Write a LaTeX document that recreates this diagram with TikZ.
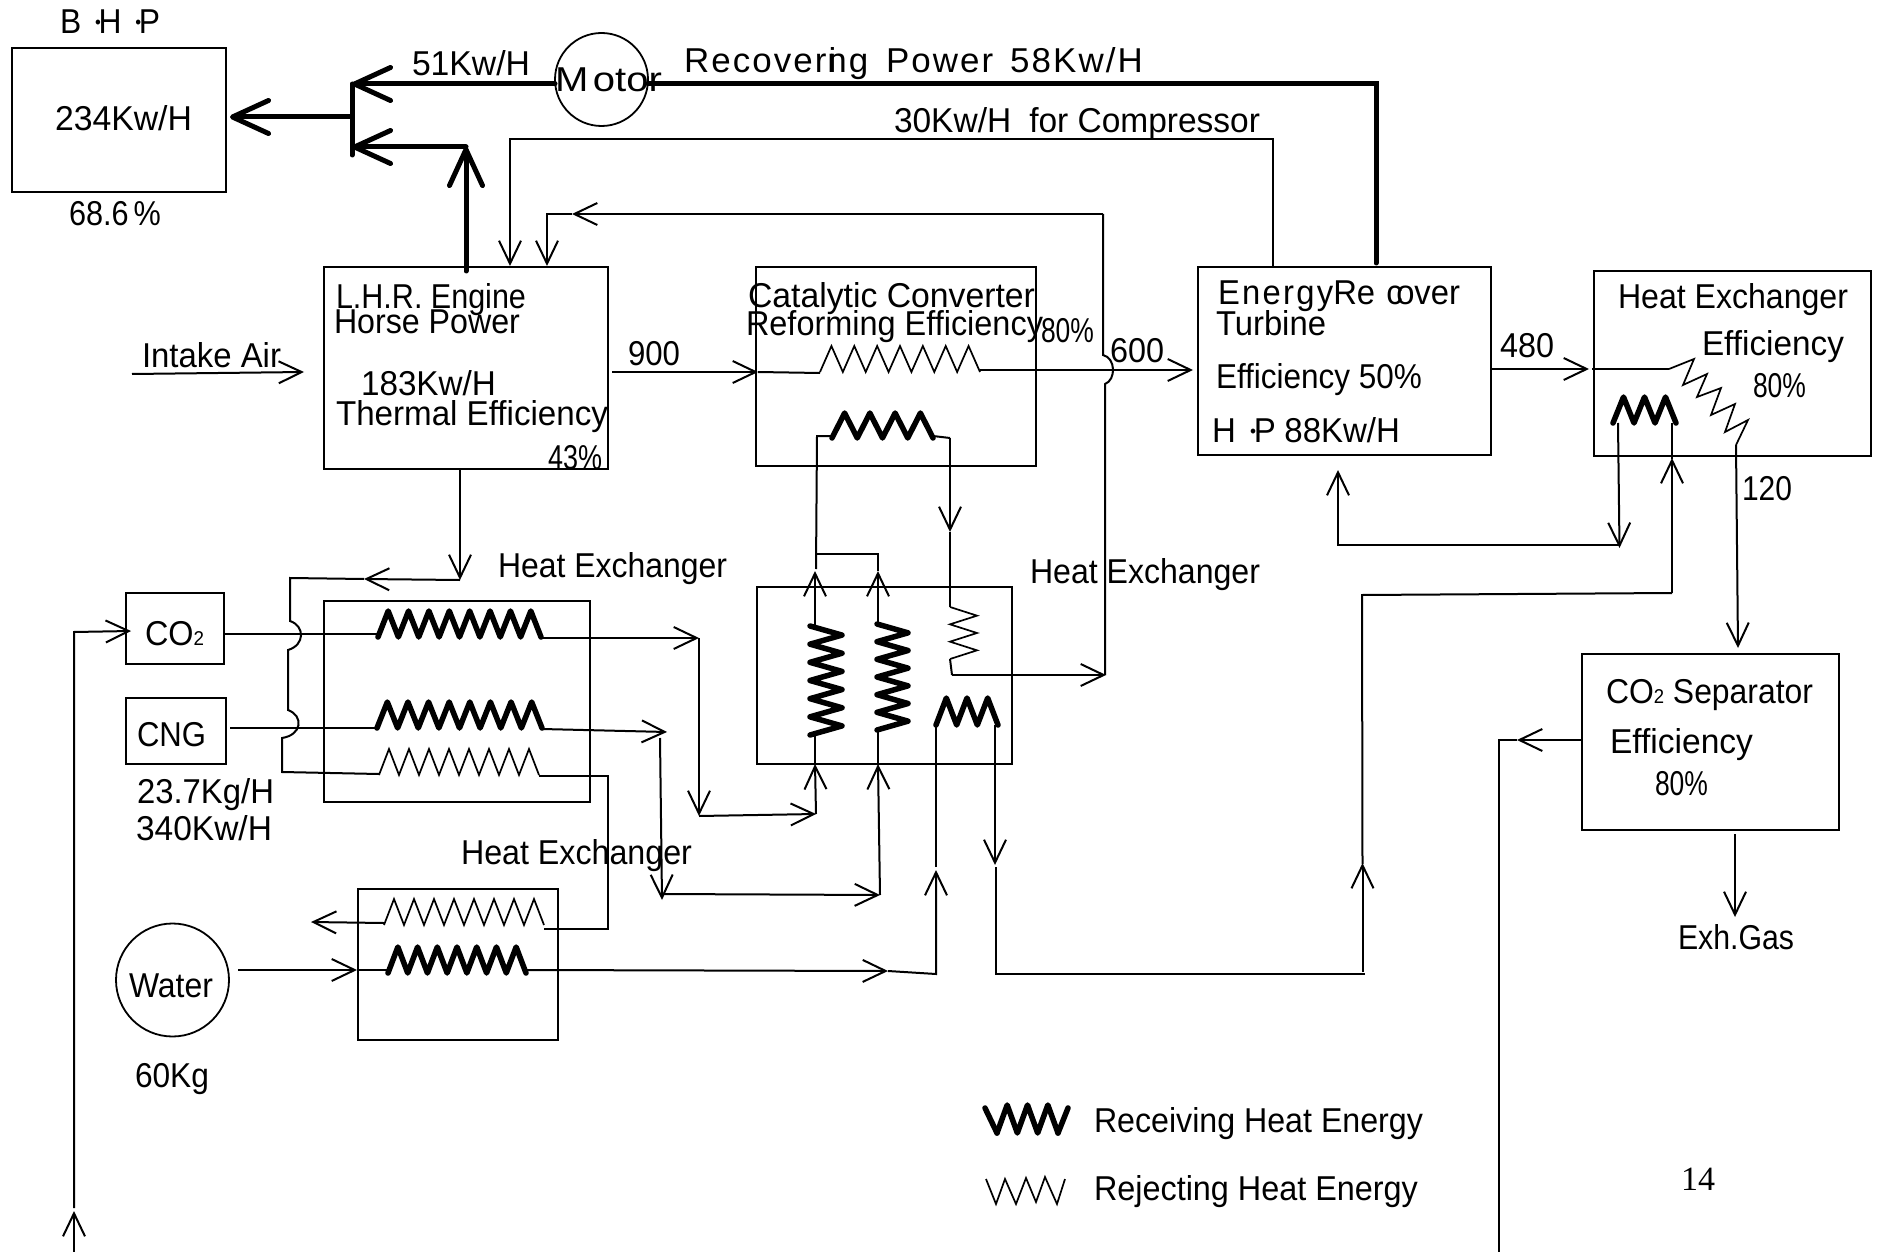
\documentclass[tikz,border=0pt]{standalone}
\usepackage{fontspec}
\usepackage{graphicx}
\setmainfont{Liberation Sans}
\newfontfamily\pagefont{Liberation Serif}
\usetikzlibrary{arrows.meta}
\newsavebox\fitbox
\newcommand\fitw[2]{\sbox\fitbox{#2}\pgfmathsetmacro\fitr{#1/\the\wd\fitbox}\scalebox{\fitr}[1]{\usebox\fitbox}}
\newcommand\lab[5]{\node[lbl] (#1) at (#2,#3) {\fitw{#4}{#5}};}
\newcommand\bdot{{\fontsize{18}{18}\selectfont\raisebox{5pt}{•}}}
\newcommand\subtwo{{\fontsize{20}{20}\selectfont 2}}
\newcommand\boxn[5]{\node[boxst,minimum width={(#4-#2)*1pt},minimum height={(#5-#3)*1pt}] (#1) at ({(#2+#4)/2},{(#3+#5)/2}) {};}
\newcommand\hcoil[6]{\pgfmathsetmacro\cdx{(#3-#1)/(2*#4)}\draw[#6] (#1,#2) \foreach\ci in {1,...,#4}{ -- ++(\cdx,-#5) -- ++(\cdx,#5)};}
\newcommand\vcoil[6]{\pgfmathsetmacro\cdy{(#3-#2)/(2*#4)}\draw[#6] (#1,#2) \foreach\ci in {1,...,#4}{ -- ++(#5,\cdy) -- ++(-#5,\cdy)};}
\tikzset{
  lbl/.style={anchor=base west,inner sep=0pt,outer sep=0pt,font=\fontsize{34.5}{34.5}\selectfont},
  boxst/.style={draw,line width=2pt,inner sep=0pt,outer sep=0pt},
  circst/.style={draw,circle,line width=1.8pt,inner sep=0pt,outer sep=0pt},
  wire/.style={line width=2pt},
  wirearr/.style={line width=2pt,-{Straight Barb[length=23pt,width=22pt,line width=2pt]}},
  heavy/.style={line width=5pt,line cap=round},
  heavyarr/.style={line width=5pt,line cap=round,-{Straight Barb[length=36pt,width=33pt,line width=5pt,round]}},
  rcoil/.style={line width=5.5pt,line join=round,line cap=round},
  jcoil/.style={line width=1.7pt,line join=miter},
}
\begin{document}
\begin{tikzpicture}[x=1pt,y=-1pt]
\useasboundingbox (0,0) rectangle (1880,1252);
% boxes
\boxn{bhp}{12}{48}{226}{192}
\boxn{engine}{324}{267}{608}{469}
\boxn{catal}{756}{267}{1036}{466}
\boxn{turb}{1198}{267}{1491}{455}
\boxn{hxr}{1594}{271}{1871}{456}
\boxn{hxa}{324}{601}{590}{802}
\boxn{hxb}{756.5}{587}{1012}{763.5}
\boxn{hxc}{358}{889}{558}{1039.5}
\boxn{cotwo}{126}{593}{224}{664}
\boxn{cng}{126}{697.5}{226}{764}
\boxn{sep}{1582}{654}{1839}{830}
\node[circst,minimum size=93pt] (motor) at (601.5,79.5) {};
\node[circst,minimum size=113pt] (water) at (172.5,980) {};
% labels
\lab{tbhp}{60}{34}{100}{B\hspace{15pt}\bdot\kern-2.5pt H\hspace{15pt}\bdot\kern-2.5pt P}
\lab{t234}{55}{131}{137}{234Kw/H}
\lab{t686}{69}{226}{92}{68.6\,\%}
\lab{t51}{412}{76}{118}{51Kw/H}
\lab{tmot}{555}{92}{107}{M\hspace{4pt}otor}
\lab{trec}{684}{72.5}{459}{\addfontfeature{LetterSpace=6}Recoveri\kern-9pt ng\hspace{6pt} Power\hspace{5pt} 58Kw/H}
\lab{t30}{894}{132.5}{366}{30Kw/H\hspace{9pt} for Compressor}
\lab{tlhr}{336}{308}{190}{L.H.R. Engine}
\lab{thp}{334}{333}{186}{Horse Power}
\lab{t183}{361}{395}{135}{183Kw/H}
\lab{tthe}{336}{425}{272}{Thermal Efficiency}
\lab{t43}{548}{469}{54}{43\%}
\lab{tair}{142}{367}{139}{Intake Air}
\lab{t900}{628}{365}{52}{900}
\lab{tcat}{748}{307}{287}{Catalytic Converter}
\lab{tref}{746}{335}{297}{Reforming Efficiency}
\lab{t80a}{1041}{342}{53}{80\%}
\lab{t600}{1110}{362.5}{54}{600}
\lab{tene}{1218}{305}{242}{\addfontfeature{LetterSpace=7}Energy\addfontfeature{LetterSpace=0}Re\hspace{12pt}c\kern-7pt over}
\lab{ttur}{1216}{335.5}{110}{Turbine}
\lab{teff}{1216}{388.5}{206}{Efficiency 50\%}
\lab{thpb}{1212}{442.5}{188}{H\hspace{15pt}\bdot\kern-2.5pt P\hspace{9pt}88Kw/H}
\lab{t480}{1500}{357}{54}{480}
\lab{thx}{1618}{308.5}{230}{Heat Exchanger}
\lab{teffb}{1702}{355.5}{142}{Efficiency}
\lab{t80b}{1753}{397.5}{53}{80\%}
\lab{t120}{1742}{500}{50}{120}
\lab{thxa}{498}{577}{229}{Heat Exchanger}
\lab{thxb}{461}{864}{231}{Heat Exchanger}
\lab{thxc}{1030}{583}{230}{Heat Exchanger}
\lab{tco}{145}{645}{59}{CO\subtwo}
\lab{tcng}{137}{746}{69}{CNG}
\lab{tkg}{137}{803}{137}{23.7Kg/H}
\lab{tkw}{136}{840.5}{136}{340Kw/H}
\lab{twat}{129}{997}{84}{Water}
\lab{t60}{135}{1087}{74}{60Kg}
\lab{tsep}{1606}{703}{207}{CO\subtwo\ Separator}
\lab{teffc}{1610}{753}{143}{Efficiency}
\lab{t80c}{1655}{795.5}{53}{80\%}
\lab{texh}{1678}{949}{116}{Exh.Gas}
\node[lbl,font=\pagefont\fontsize{34}{34}\selectfont] (tpage) at (1681,1190) {14};
\lab{trcv}{1094}{1132}{329}{Receiving Heat Energy}
\lab{trej}{1094}{1200.5}{324}{Rejecting Heat Energy}
% waypoints
\coordinate (mL) at (555,84); \coordinate (mR) at (648,84);
\coordinate (rA) at (1376,84); \coordinate (rB) at (1376,263);
\coordinate (busT) at (352,84); \coordinate (busB) at (352,155);
\coordinate (busM) at (352,117); \coordinate (bhpIn) at (230,117);
\coordinate (busN) at (352,147); \coordinate (jE) at (466,147); \coordinate (eOut) at (466,271);
\coordinate (cA) at (1273,267); \coordinate (cB) at (1273,139); \coordinate (cC) at (510,139); \coordinate (cD) at (510,266);
\coordinate (bA) at (1105,675); \coordinate (bB) at (1105,384); \coordinate (bC) at (1103,355);
\coordinate (bD) at (1103,214); \coordinate (bE) at (572,214); \coordinate (bF) at (547,214); \coordinate (bG) at (547,266);
\coordinate (airA) at (132,374); \coordinate (airB) at (304,372);
\coordinate (nA) at (612,372); \coordinate (nB) at (758,372); \coordinate (nC) at (820,373);
\coordinate (sA) at (980,370); \coordinate (sB) at (1193,370);
\coordinate (fA) at (1491,369); \coordinate (fB) at (1589,369); \coordinate (fC) at (1592,369); \coordinate (fD) at (1669,369);
\coordinate (oA) at (1736,445); \coordinate (oB) at (1738,648);
\coordinate (upA) at (1620,545); \coordinate (upB) at (1338,545); \coordinate (upC) at (1338,470);
\coordinate (upD) at (1618,423); \coordinate (upE) at (1619.5,548);
\coordinate (hxA) at (817,436); \coordinate (hxB) at (816,554); \coordinate (hxC) at (878,554); \coordinate (hxD) at (878,571);
\coordinate (hxE) at (832,436); \coordinate (hxF) at (933,436); \coordinate (hxG) at (950,438); \coordinate (hxH) at (950,532); \coordinate (hxI) at (950,607);
\coordinate (hxJ) at (950,659); \coordinate (hxK) at (952,675); \coordinate (hxL) at (1106,675);
\coordinate (vA) at (815,625); \coordinate (vB) at (815,571); \coordinate (vC) at (878,623); \coordinate (vD) at (878,571); \coordinate (vE) at (816,569);
\coordinate (vF) at (815,735); \coordinate (vG) at (815,765); \coordinate (vH) at (878,730); \coordinate (vI) at (878,765);
\coordinate (eA) at (460,469); \coordinate (eB) at (460,580); \coordinate (eC) at (364,579); \coordinate (eD) at (290,578);
\coordinate (eE) at (290,621); \coordinate (eF) at (288,650); \coordinate (eG) at (288,710); \coordinate (eH) at (282,738);
\coordinate (eI) at (282,772); \coordinate (eJ) at (379,774);
\coordinate (aA) at (225,634); \coordinate (aB) at (378,634); \coordinate (aC) at (541,638); \coordinate (aD) at (699,638);
\coordinate (aE) at (699,816); \coordinate (aF) at (816,814); \coordinate (aG) at (815,764);
\coordinate (gA) at (230,728); \coordinate (gB) at (377,728); \coordinate (gC) at (542,729); \coordinate (gD) at (667,732);
\coordinate (gE) at (660,738); \coordinate (gF) at (662,900); \coordinate (gG) at (662,894); \coordinate (gH) at (880,895); \coordinate (gI) at (878,764);
\coordinate (dA) at (539,776); \coordinate (dB) at (608,776); \coordinate (dC) at (608,929); \coordinate (dD) at (544,929); \coordinate (dE) at (384,923); \coordinate (dF) at (311,922);
\coordinate (wA) at (238,970); \coordinate (wB) at (357,970); \coordinate (wC) at (388,970);
\coordinate (wD) at (526,970); \coordinate (wE) at (888,971); \coordinate (wF) at (936,974); \coordinate (wG) at (936,870); \coordinate (wH) at (936,867); \coordinate (wI) at (936,725);
\coordinate (xA) at (995,725); \coordinate (xB) at (995,865); \coordinate (xC) at (996,867); \coordinate (xD) at (996,974); \coordinate (xE) at (1365,974);
\coordinate (xF) at (1362.5,972); \coordinate (xG) at (1362.5,863); \coordinate (xH) at (1362.5,864); \coordinate (xI) at (1362,595); \coordinate (xJ) at (1672,593); \coordinate (xK) at (1672,458); \coordinate (xL) at (1672,459); \coordinate (xM) at (1672,423);
\coordinate (pA) at (1581,740); \coordinate (pB) at (1517,740); \coordinate (pC) at (1499,740); \coordinate (pD) at (1499,1252);
\coordinate (qA) at (1735,834); \coordinate (qB) at (1735,917);
\coordinate (lA) at (74,1252); \coordinate (lB) at (74,1211); \coordinate (lC) at (74,1208); \coordinate (lD) at (74,632); \coordinate (lE) at (131,631);
% heavy power lines
\draw[heavy] (rB) -- (rA) -- (mR);
\draw[heavyarr] (mL) -- (busT);
\draw[heavy] (busT) -- (busB);
\draw[heavyarr] (busM) -- (bhpIn);
\draw[heavyarr] (jE) -- (busN);
\draw[heavyarr] (eOut) -- (jE);
% thin connectors
\draw[wirearr] (cA) -- (cB) -- (cC) -- (cD);
\draw[wire] (bA) -- (bB) .. controls (1116,380) and (1116,358) .. (bC) -- (bD);
\draw[wirearr] (bD) -- (bE);
\draw[wirearr] (bE) -- (bF) -- (bG);
\draw[wirearr] (airA) -- (airB);
\draw[wirearr] (nA) -- (nB);
\draw[wire] (nB) -- (nC);
\draw[wirearr] (sA) -- (sB);
\draw[wirearr] (fA) -- (fB);
\draw[wire] (fC) -- (fD);
\draw[wirearr] (oA) -- (oB);
\draw[wirearr] (upA) -- (upB) -- (upC);
\draw[wirearr] (upD) -- (upE);
\draw[wire] (vE) -- (hxA) -- (hxE);
\draw[wire] (hxB) -- (hxC) -- (hxD);
\draw[wire] (hxF) -- (hxG);
\draw[wirearr] (hxG) -- (hxH);
\draw[wire] (hxH) -- (hxI);
\draw[wire] (hxJ) -- (hxK);
\draw[wirearr] (hxK) -- (hxL);
\draw[wirearr] (vA) -- (vB);
\draw[wirearr] (vC) -- (vD);
\draw[wire] (vF) -- (vG);
\draw[wire] (vH) -- (vI);
\draw[wirearr] (eA) -- (eB);
\draw[wirearr] (eB) -- (eC);
\draw[wire] (eC) -- (eD) -- (eE) .. controls (305,626) and (305,645) .. (eF) -- (eG) .. controls (304,716) and (302,735) .. (eH) -- (eI) -- (eJ);
\draw[wire] (aA) -- (aB);
\draw[wirearr] (aC) -- (aD);
\draw[wirearr] (aD) -- (aE);
\draw[wirearr] (aE) -- (aF);
\draw[wirearr] (aF) -- (aG);
\draw[wire] (gA) -- (gB);
\draw[wirearr] (gC) -- (gD);
\draw[wirearr] (gE) -- (gF);
\draw[wirearr] (gG) -- (gH);
\draw[wirearr] (gH) -- (gI);
\draw[wire] (dA) -- (dB) -- (dC) -- (dD);
\draw[wirearr] (dE) -- (dF);
\draw[wirearr] (wA) -- (wB);
\draw[wire] (wB) -- (wC);
\draw[wirearr] (wD) -- (wE);
\draw[wirearr] (wE) -- (wF) -- (wG);
\draw[wire] (wH) -- (wI);
\draw[wirearr] (xA) -- (xB);
\draw[wire] (xC) -- (xD) -- (xE);
\draw[wirearr] (xF) -- (xG);
\draw[wire] (xH) -- (xI) -- (xJ);
\draw[wirearr] (xJ) -- (xK);
\draw[wire] (xL) -- (xM);
\draw[wirearr] (pA) -- (pB);
\draw[wire] (pB) -- (pC) -- (pD);
\draw[wirearr] (qA) -- (qB);
\draw[wirearr] (lA) -- (lB);
\draw[wirearr] (lC) -- (lD) -- (lE);
% coils
\hcoil{820}{372}{980}{7}{26}{jcoil}
\hcoil{832}{438}{933}{4}{25}{rcoil}
\vcoil{950}{607}{659}{3}{27}{jcoil}
\vcoil{810}{626}{735}{6}{32}{rcoil}
\vcoil{877}{624}{730}{6}{31}{rcoil}
\hcoil{936}{725}{998}{3}{27}{rcoil}
\hcoil{378}{637}{541}{8}{26}{rcoil}
\hcoil{377}{728}{542}{8}{26}{rcoil}
\hcoil{379}{775}{539}{8}{26}{jcoil}
\hcoil{384}{925}{544}{8}{26}{jcoil}
\hcoil{388}{973}{526}{7}{26}{rcoil}
\hcoil{1613}{423}{1676}{3}{26}{rcoil}
\draw[jcoil] (1669,369) -- (1694,359) -- (1683,385) -- (1707,374) -- (1697,397) -- (1721,388) -- (1711,415) -- (1735,404) -- (1725,432) -- (1748,420) -- (1736,445);
% legend coils
\hcoil{997}{1133}{1058}{3}{28}{rcoil}
\draw[rcoil] (985,1108) -- (997,1133);
\draw[rcoil] (1058,1133) -- (1068,1108);
\draw[jcoil] (986,1179) -- (996,1204) -- (1005,1179) -- (1016,1204) -- (1026,1178) -- (1036,1202) -- (1045,1177) -- (1057,1204) -- (1065,1179);
\end{tikzpicture}
\end{document}
